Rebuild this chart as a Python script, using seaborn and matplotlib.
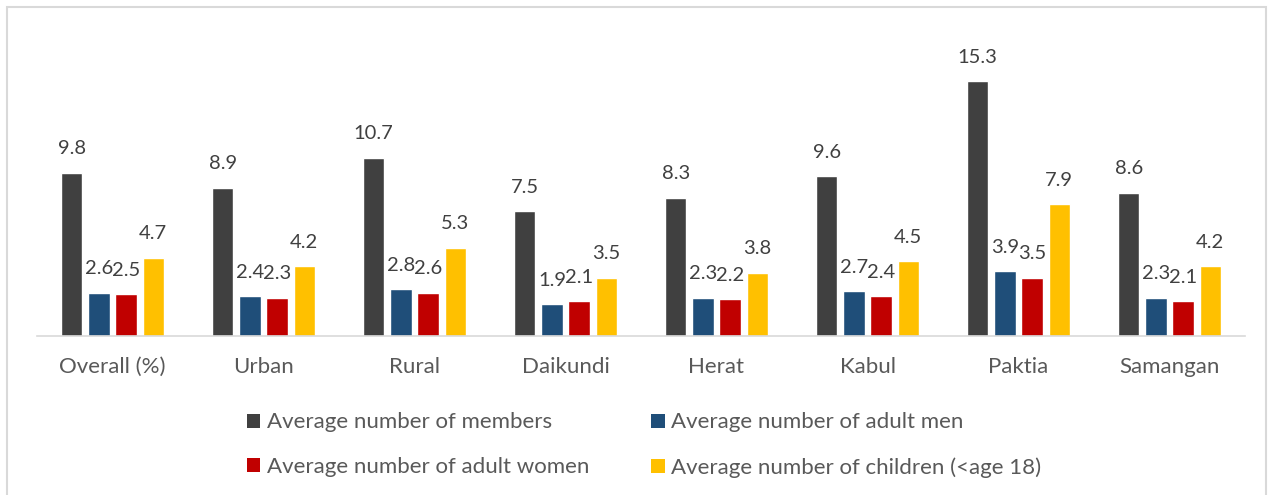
import matplotlib
matplotlib.use("Agg")
import matplotlib.pyplot as plt
import seaborn as sns
import pandas as pd
from matplotlib.patches import Patch, Rectangle

categories = ["Overall (%)", "Urban", "Rural", "Daikundi", "Herat", "Kabul", "Paktia", "Samangan"]
series_names = ["Average number of members", "Average number of adult men",
                "Average number of adult women", "Average number of children (<age 18)"]
members = [9.8, 8.9, 10.7, 7.5, 8.3, 9.6, 15.3, 8.6]
adult_men = [2.6, 2.4, 2.8, 1.9, 2.3, 2.7, 3.9, 2.3]
adult_women = [2.5, 2.3, 2.6, 2.1, 2.2, 2.4, 3.5, 2.1]
children = [4.7, 4.2, 5.3, 3.5, 3.8, 4.5, 7.9, 4.2]
colors = ["#404040", "#1F4E79", "#C00000", "#FFC000"]

rows = []
for name, vals in zip(series_names, [members, adult_men, adult_women, children]):
    for c, v in zip(categories, vals):
        rows.append({"category": c, "series": name, "value": v})
df = pd.DataFrame(rows)

sns.set_style("white")
plt.rcParams["font.family"] = ["Lato", "DejaVu Sans"]

fig = plt.figure(figsize=(12.71, 4.95), dpi=100)
ax = fig.add_axes([37/1271, (495-336)/495, 1208/1271, 300/495])

sns.barplot(data=df, x="category", y="value", hue="series", order=categories,
            hue_order=series_names, palette=colors, width=0.72, gap=0.22,
            legend=False, ax=ax, saturation=1, errorbar=None)

for cont in ax.containers:
    ax.bar_label(cont, fmt="%.1f", padding=11, fontsize=14.5, color="#404040")

ax.set_ylim(0, 18)
ax.set_xlim(-0.5, len(categories) - 0.5)
ax.set_xlabel("")
ax.set_ylabel("")
ax.set_yticks([])
for s in ["top", "right", "left"]:
    ax.spines[s].set_visible(False)
ax.spines["bottom"].set_color("#D9D9D9")
ax.spines["bottom"].set_linewidth(1.2)
ax.tick_params(axis="x", length=0, pad=15, labelsize=16, labelcolor="#595959")
ax.patch.set_alpha(0)

patches = {n: Patch(facecolor=c, edgecolor="none", label=n) for c, n in zip(colors, series_names)}
order = [series_names[0], series_names[2], series_names[1], series_names[3]]
handles = [patches[n] for n in order]
leg = fig.legend(handles=handles, loc="center", bbox_to_anchor=(644/1271, (495-445)/495),
                 ncol=2, frameon=False, fontsize=16, handlelength=0.6, handleheight=0.6,
                 handletextpad=0.3, columnspacing=2.8, labelspacing=1.1)
for t in leg.get_texts():
    t.set_color("#595959")

fig.patches.append(Rectangle((7/1271, -0.05), 1259/1271, (495-7)/495 + 0.05, transform=fig.transFigure,
                             fill=False, edgecolor="#D9D9D9", linewidth=1.5))

fig.savefig("out.png", dpi=100)
